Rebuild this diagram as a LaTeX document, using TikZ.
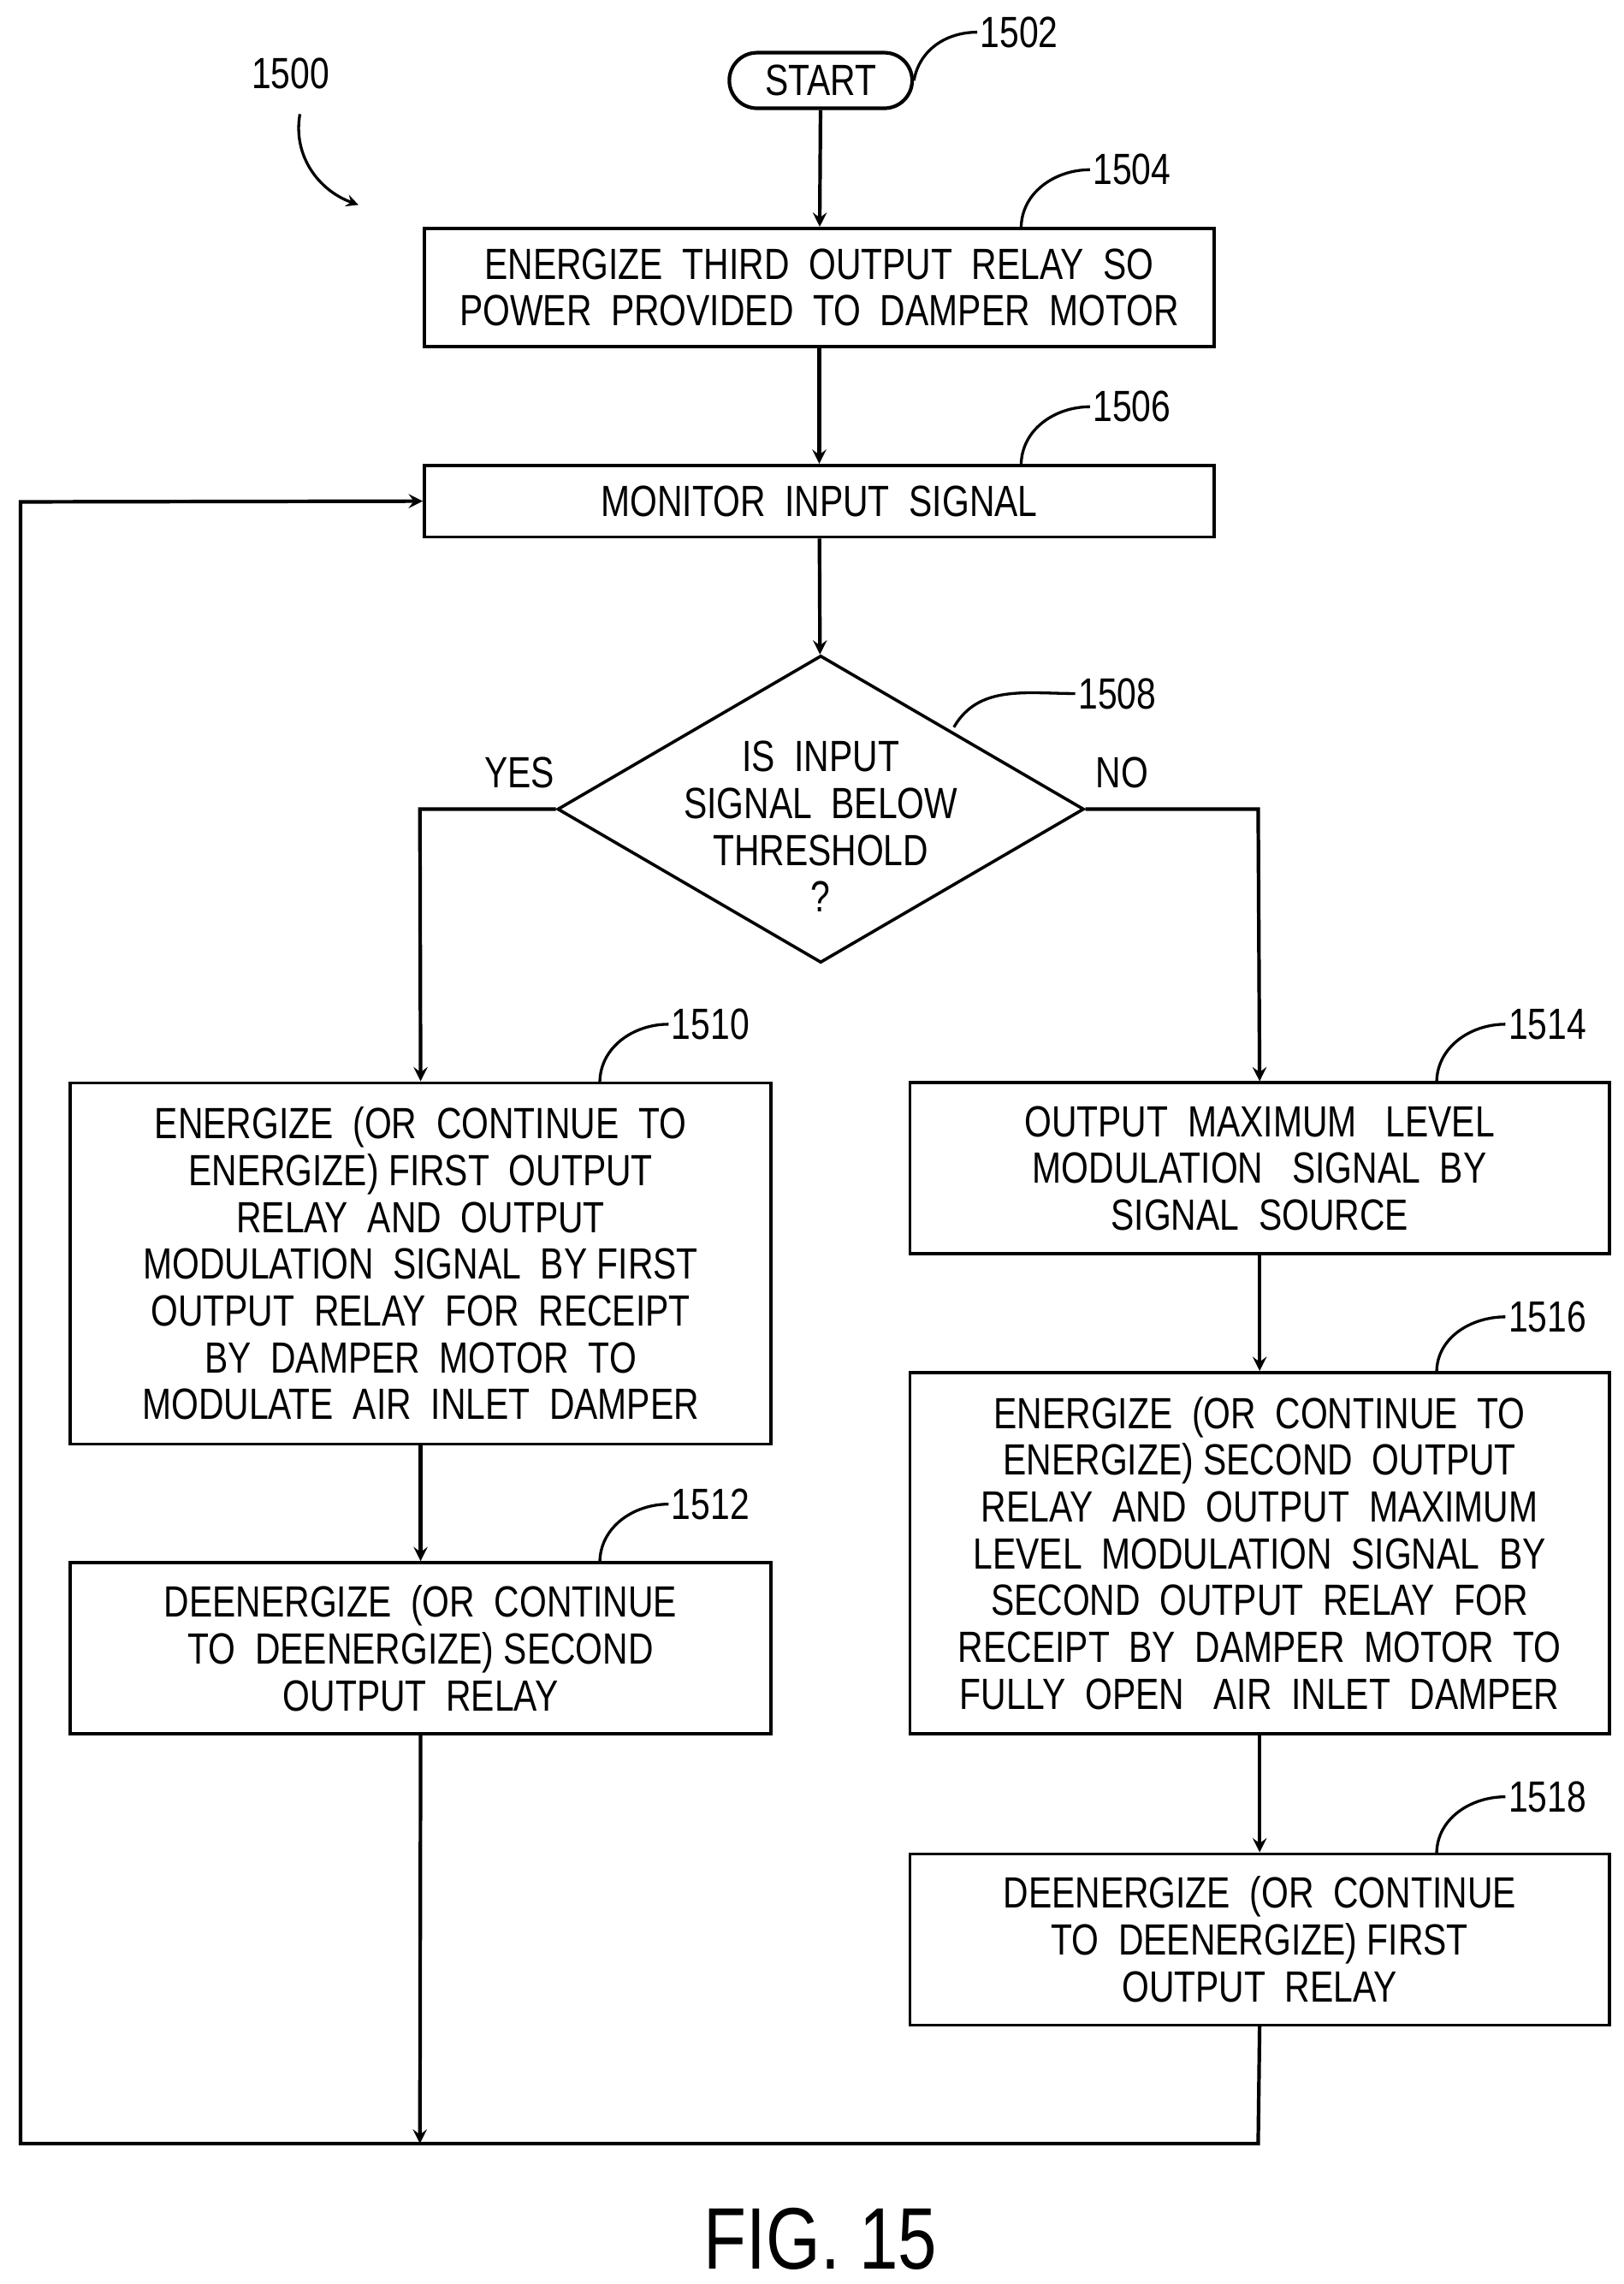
\documentclass[tikz,border=0pt]{standalone}
\usepackage{fontspec}
\setmainfont{Liberation Sans}[FakeStretch=0.8]
\usepackage{tikz}
\usetikzlibrary{shapes.geometric, arrows, positioning}

\begin{document}
\begin{tikzpicture}[x=0.02cm, y=-0.02cm,
        every node/.style={font=\fontsize{17}{18.2}\selectfont},
        box/.style={draw, line width=1.2pt, minimum width=#1, align=center, inner sep=2pt},
        box/.default=10.8cm,
        arrow/.style={->, line width=1.4pt, >=stealth},
        line/.style={line width=1.4pt},
        lead/.style={line width=1.1pt},
        ref/.style={anchor=west, inner sep=1pt}
    ]
        \useasboundingbox (0,0) rectangle (1110,1561);
        \node[draw, line width=1.4pt, rounded corners=0.38cm, minimum width=2.5cm, minimum height=0.76cm] (start) at (561,55) {START};
        \node[box, minimum height=1.62cm] (b1504) at (560,196.5) {ENERGIZE\ \ THIRD\ \ OUTPUT\ \ RELAY\ \ SO\\POWER\ \ PROVIDED\ \ TO\ \ DAMPER\ \ MOTOR};
        \node[box, minimum height=0.98cm] (b1506) at (560,342.5) {MONITOR\ \ INPUT\ \ SIGNAL};
        \node[draw, line width=1.2pt, diamond, minimum width=7.2cm, minimum height=4.2cm, inner sep=0pt] (d1508) at (561,553) {};
        \node[align=center] (q1508) at (561,565) {IS\ \ INPUT\\SIGNAL\ \ BELOW\\THRESHOLD\\?};
        \node[box=9.58cm, minimum height=4.94cm] (b1510) at (287.5,863.5) {ENERGIZE\ \ (OR\ \ CONTINUE\ \ TO\\ENERGIZE)\ FIRST\ \ OUTPUT\\RELAY\ \ AND\ \ OUTPUT\\MODULATION\ \ SIGNAL\ \ BY\ FIRST\\OUTPUT\ \ RELAY\ \ FOR\ \ RECEIPT\\BY\ \ DAMPER\ \ MOTOR\ \ TO\\MODULATE\ \ AIR\ \ INLET\ \ DAMPER};
        \node[box=9.58cm, minimum height=2.34cm] (b1512) at (287.5,1126.5) {DEENERGIZE\ \ (OR\ \ CONTINUE\\TO\ \ DEENERGIZE)\ SECOND\\OUTPUT\ \ RELAY};
        \node[box=9.56cm, minimum height=2.34cm] (b1514) at (861,798.5) {OUTPUT\ \ MAXIMUM\ \ \ LEVEL\\MODULATION\ \ \ SIGNAL\ \ BY\\SIGNAL\ \ SOURCE};
        \node[box=9.56cm, minimum height=4.94cm] (b1516) at (861,1061.5) {ENERGIZE\ \ (OR\ \ CONTINUE\ \ TO\\ENERGIZE)\ SECOND\ \ OUTPUT\\RELAY\ \ AND\ \ OUTPUT\ \ MAXIMUM\\LEVEL\ \ MODULATION\ \ SIGNAL\ \ BY\\SECOND\ \ OUTPUT\ \ RELAY\ \ FOR\\RECEIPT\ \ BY\ \ DAMPER\ \ MOTOR\ \ TO\\FULLY\ \ OPEN\ \ \ AIR\ \ INLET\ \ DAMPER};
        \node[box=9.56cm, minimum height=2.34cm] (b1518) at (861,1325.5) {DEENERGIZE\ \ (OR\ \ CONTINUE\\TO\ \ DEENERGIZE)\ FIRST\\OUTPUT\ \ RELAY};
        \node (yes) at (355,528) {YES};
        \node (no) at (767,528) {NO};
        \node[font=\fontsize{34}{36}\selectfont] (fig) at (561,1530) {FIG. 15};
        \coordinate (loopbr) at (860,1465);
        \coordinate (loopbl) at (14,1465);
        \coordinate (looptl) at (14,343);
        \coordinate (yesc) at (287,553);
        \coordinate (noc) at (860,553);

        % reference numerals
        \node[ref] (r1500) at (170,50) {1500};
        \node[ref] (r1502) at (668,22) {1502};
        \node[ref] (r1504) at (745,116) {1504};
        \node[ref] (r1506) at (745,278) {1506};
        \node[ref] (r1508) at (735,474) {1508};
        \node[ref] (r1510) at (457,700) {1510};
        \node[ref] (r1512) at (457,1028) {1512};
        \node[ref] (r1514) at (1029,700) {1514};
        \node[ref] (r1516) at (1029,900) {1516};
        \node[ref] (r1518) at (1029,1228) {1518};
        \draw[arrow, lead] (205,78) to[out=260,in=160] (245,140);
        \draw[lead] (start.east) to[out=80,in=180] (r1502.west);
        \draw[lead] (698,156) to[out=90,in=180] (r1504.west);
        \draw[lead] (698,318) to[out=90,in=180] (r1506.west);
        \draw[lead] (652,497) to[out=60,in=180] (r1508.west);
        \draw[lead] (410,740) to[out=90,in=180] (r1510.west);
        \draw[lead] (410,1068) to[out=90,in=180] (r1512.west);
        \draw[lead] (982,740) to[out=90,in=180] (r1514.west);
        \draw[lead] (982,938) to[out=90,in=180] (r1516.west);
        \draw[lead] (982,1267) to[out=90,in=180] (r1518.west);

        % flow
        \draw[arrow] (start) -- (b1504);
        \draw[arrow] (b1504) -- (b1506);
        \draw[arrow] (b1506) -- (d1508);
        \draw[arrow] (d1508.west) -- (yesc) -- (b1510.north);
        \draw[arrow] (d1508.east) -- (noc) -- (b1514.north);
        \draw[arrow] (b1510) -- (b1512);
        \draw[arrow] (b1514) -- (b1516);
        \draw[arrow] (b1516) -- (b1518);
        \draw[arrow] (b1512.south) -- (287,1465);
        \draw[arrow] (b1518.south) -- (loopbr) -- (loopbl) -- (looptl) -- (b1506.west);
    \end{tikzpicture}
\end{document}
